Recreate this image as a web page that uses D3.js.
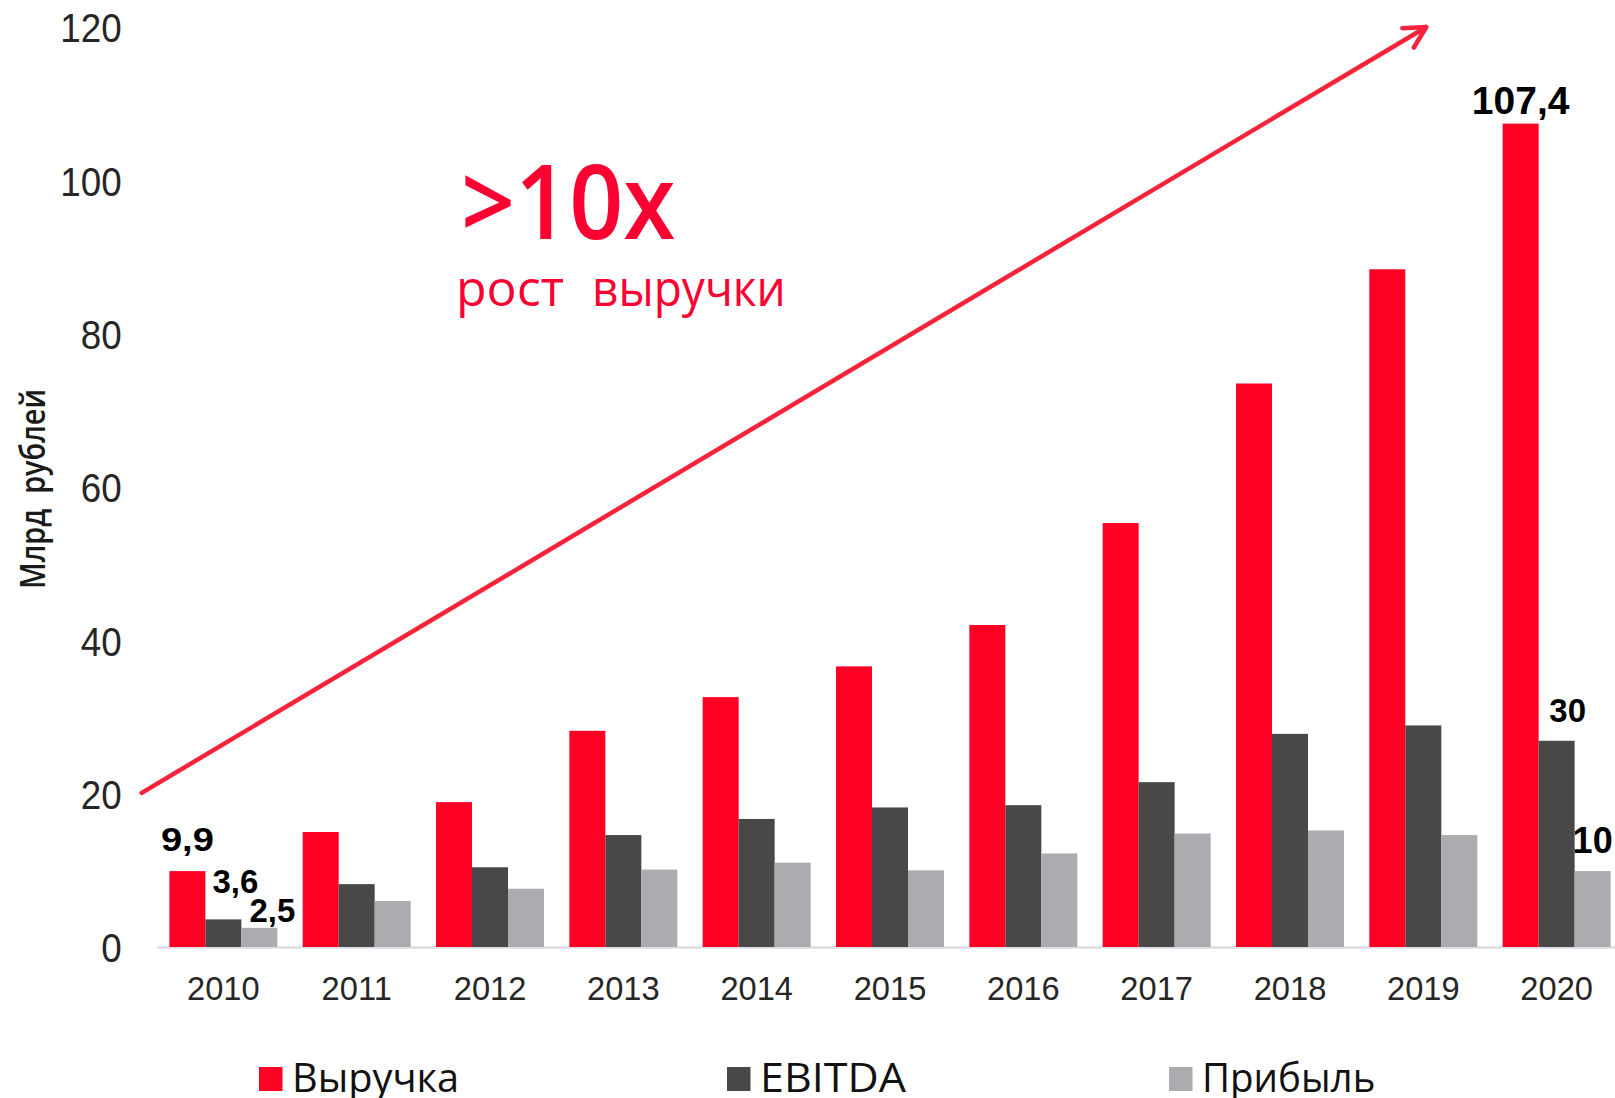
<!DOCTYPE html>
<html>
<head>
<meta charset="utf-8">
<style>
    body { margin: 0; background: #fff; }
    svg { display: block; font-family: 'Open Sans', 'Noto Sans', sans-serif; }
    .tick line { display: none; }
</style>
</head>
<body>
<svg width="1615" height="1098"></svg>

<script src="https://d3js.org/d3.v7.min.js"></script>
<script>
// data
let years = ["2010", "2011", "2012", "2013", "2014", "2015", "2016", "2017", "2018", "2019", "2020"]
let series = ["Выручка", "EBITDA", "Прибыль"]
let revenue = [9.9, 15.0, 18.9, 28.2, 32.6, 36.6, 42.0, 55.3, 73.5, 88.4, 107.4]
let ebitda  = [3.6, 8.2, 10.4, 14.6, 16.7, 18.2, 18.5, 21.5, 27.8, 28.9, 26.9]
let profit  = [2.5, 6.0, 7.6, 10.1, 11.0, 10.0, 12.2, 14.8, 15.2, 14.6, 9.9]
let yTicks = [0, 20, 40, 60, 80, 100, 120]
// value labels shown on the chart (year, series, text)
let valueLabels = [
    ["2010", "Выручка", "9,9"],
    ["2010", "EBITDA", "3,6"],
    ["2010", "Прибыль", "2,5"],
    ["2020", "Выручка", "107,4"],
    ["2020", "EBITDA", "30"],
    ["2020", "Прибыль", "10"]
]

let colors = { "Выручка": "#fd0024", "EBITDA": "#484848", "Прибыль": "#acacb0" }
let values = { "Выручка": revenue, "EBITDA": ebitda, "Прибыль": profit }

let svg = d3.select("svg")

let x = d3.scaleBand()
    .domain(years)
    .range([156.7, 1623.3])
    .paddingInner(0.19)
    .paddingOuter(0.095)

let xs = d3.scaleBand()
    .domain(series)
    .range([0, x.bandwidth()])

let y = d3.scaleLinear()
    .domain([0, 120])
    .range([947, 27])

// axes
let yAxis = svg.append("g")
    .attr("transform", "translate(130,0)")
    .call(d3.axisLeft(y).tickValues(yTicks).tickSize(0).tickPadding(9))
yAxis.select(".domain").remove()
yAxis.selectAll("text")
    .attr("dy", "0.37em")
    .attr("transform", "scale(0.92,1)")
    .style("font-size", "40px")
    .style("fill", "#262626")

let xAxis = svg.append("g")
    .attr("transform", "translate(0,947)")
    .call(d3.axisBottom(x).tickSize(0).tickSizeOuter(0).tickPadding(29))
xAxis.select(".domain")
    .attr("stroke", "#dedde3")
    .attr("stroke-width", 2.5)
xAxis.selectAll("text")
    .attr("transform", "scale(0.96,1)")
    .style("font-size", "34px")
    .style("fill", "#262626")

// bars
let rows = years.map((yr, i) => ({ year: yr, items: series.map(s => ({ key: s, value: values[s][i] })) }))

svg.append("g")
    .selectAll("g")
    .data(rows)
    .join("g")
    .attr("transform", d => `translate(${x(d.year)},0)`)
    .selectAll("rect")
    .data(d => d.items)
    .join("rect")
    .attr("x", d => xs(d.key))
    .attr("y", d => y(d.value))
    .attr("width", xs.bandwidth())
    .attr("height", d => y(0) - y(d.value))
    .attr("fill", d => colors[d.key])

// value labels
let labelShift = { "Выручка": [0, 20], "EBITDA": [12, 26], "Прибыль": [13, 6] }
let labelShift2020 = { "Выручка": [0, 10], "EBITDA": [11, 19], "Прибыль": [0, 18] }
let labelSize = { "9,9": 34, "3,6": 33, "2,5": 33, "107,4": 39, "30": 33, "10": 36 }
svg.append("g")
    .selectAll("text")
    .data(valueLabels)
    .join("text")
    .attr("transform", d => {
        let sh = d[0] == "2020" ? labelShift2020 : labelShift
        let v = values[d[1]][years.indexOf(d[0])]
        let lx = x(d[0]) + xs(d[1]) + xs.bandwidth() / 2 + sh[d[1]][0]
        let ly = y(v) - sh[d[1]][1]
        let sx = d[2] == "9,9" ? 1.12 : 1
        return `translate(${lx},${ly}) scale(${sx},1)`
    })
    .attr("text-anchor", "middle")
    .style("font-family", "'Liberation Sans', Arial, sans-serif")
    .style("font-weight", 700)
    .style("font-size", d => labelSize[d[2]] + "px")
    .style("fill", "#000")
    .text(d => d[2])

// growth arrow
let ax1 = x.range()[0] - 15, ay1 = y(20.1)
let ax2 = x("2019") + x.bandwidth() / 2 + 3, ay2 = y(120)
let ang = Math.atan2(ay1 - ay2, ax1 - ax2)
let head = 24, spread = 28 * Math.PI / 180
let arrowPath = d3.path()
arrowPath.moveTo(ax1, ay1)
arrowPath.lineTo(ax2, ay2)
arrowPath.moveTo(ax2 + head * Math.cos(ang + spread), ay2 + head * Math.sin(ang + spread))
arrowPath.lineTo(ax2, ay2)
arrowPath.lineTo(ax2 + head * Math.cos(ang - spread), ay2 + head * Math.sin(ang - spread))
svg.append("path")
    .attr("d", arrowPath.toString())
    .attr("fill", "none")
    .attr("stroke", "#f7233a")
    .attr("stroke-width", 4.5)
    .attr("stroke-linecap", "round")
    .attr("stroke-linejoin", "round")

// annotation
svg.append("text")
    .attr("transform", "translate(461,239) scale(0.91,1)")
    .style("font-size", "104px")
    .style("font-weight", 600)
    .style("fill", "#fb0030")
    .text(">10x")

svg.append("text")
    .attr("transform", "translate(456,306) scale(1,1)")
    .style("font-size", "50px")
    .style("fill", "#fb0030")
    .text("рост")

svg.append("text")
    .attr("transform", "translate(592,306) scale(0.92,1)")
    .style("font-size", "50px")
    .style("fill", "#fb0030")
    .text("выручки")

// y title
svg.append("text")
    .attr("transform", "translate(45,489) rotate(-90) scale(0.85,1)")
    .attr("text-anchor", "middle")
    .style("font-size", "34px")
    .style("font-weight", 600)
    .style("fill", "#1a1a1a")
    .style("white-space", "pre")
    .text("Млрд  рублей")

// legend
let legendX = [259, 727, 1169]
let legendScale = [0.97, 1.05, 0.94]
let legend = svg.append("g")
    .selectAll("g")
    .data(series)
    .join("g")
    .attr("transform", (d, i) => `translate(${legendX[i]},1067)`)
legend.append("rect")
    .attr("width", 23.5)
    .attr("height", 24)
    .attr("fill", d => colors[d])
legend.append("text")
    .attr("transform", (d, i) => `translate(33,25) scale(${legendScale[i]},1)`)
    .style("font-size", "41px")
    .style("fill", "#111")
    .text(d => d)
</script>
</body>
</html>
